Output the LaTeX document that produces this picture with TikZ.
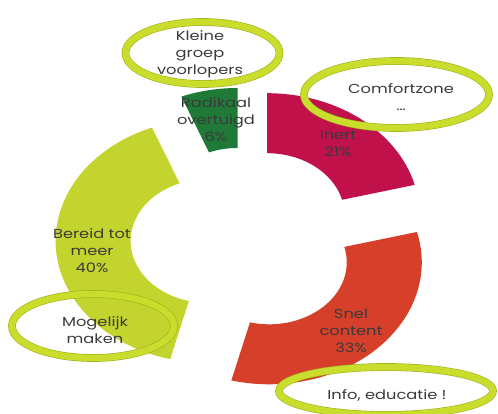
\documentclass[tikz,border=0pt]{standalone}
\usepackage{fontspec}
\usepackage{tikz}
\usetikzlibrary{calc}
\newfontfamily\chartfont{Poppins}[FakeStretch=1.25]
\definecolor{inertred}{HTML}{C0114B}
\definecolor{snelred}{HTML}{D63F2A}
\definecolor{bereidgreen}{HTML}{C4D42E}
\definecolor{radigreen}{HTML}{1F7A38}
\definecolor{ringfill}{HTML}{CADD2C}
\definecolor{ringedge}{HTML}{9DB21E}
\definecolor{txtgray}{HTML}{3A3A3A}

\begin{document}
\begin{tikzpicture}[x=1pt, y=-1pt,
  lbl/.style={font=\chartfont\fontsize{13}{17}\selectfont, text=txtgray, align=center, inner sep=0pt},
  ring/.style={draw=ringedge, line width=0.6pt, double=ringfill, double distance=6.5pt}]
  \clip (0,0) rectangle (498,414);
  % exploded doughnut, stretched sideways
  \begin{scope}[xscale=1.25]
    \foreach \a/\b/\cx/\cy/\col in {-90/-14.4/213.6/215.2/inertred,
        -14.4/104.4/215.4/262.3/snelred,
        104.4/248.4/166.5/241/bereidgreen,
        248.4/270/190/210/radigreen}
      \fill[\col] (\cx,\cy) ++(\a:122) arc[start angle=\a, end angle=\b, radius=122]
        -- ($(\cx,\cy)+(\b:62)$) arc[start angle=\b, end angle=\a, radius=62] -- cycle;
  \end{scope}
  % segment labels
  \node[lbl] (radikaal) at (216,120) {Radikaal\\overtuigd\\6\%};
  \node[lbl] (inert) at (338,144) {Inert\\21\%};
  \node[lbl] (snel) at (351,331) {Snel\\content\\33\%};
  \node[lbl] (bereid) at (92,251) {Bereid tot\\meer\\40\%};
  % rings
  \draw[ring] (202.5,53) ellipse[x radius=77, y radius=31];
  \draw[ring] (396.5,94.5) ellipse[x radius=92.5, y radius=33.5];
  \draw[ring] (93,326) ellipse[x radius=81, y radius=32];
  \draw[ring] (386,391) ellipse[x radius=107, y radius=24];
  \node[lbl] (kleine) at (200,54) {Kleine\\groep\\voorlopers};
  \node[lbl] (comfort) at (401,97) {Comfortzone\\\dots};
  \node[lbl] (mogelijk) at (95,330) {Mogelijk\\maken};
  \node[lbl] (info) at (387,395) {Info, educatie !};
\end{tikzpicture}
\end{document}
